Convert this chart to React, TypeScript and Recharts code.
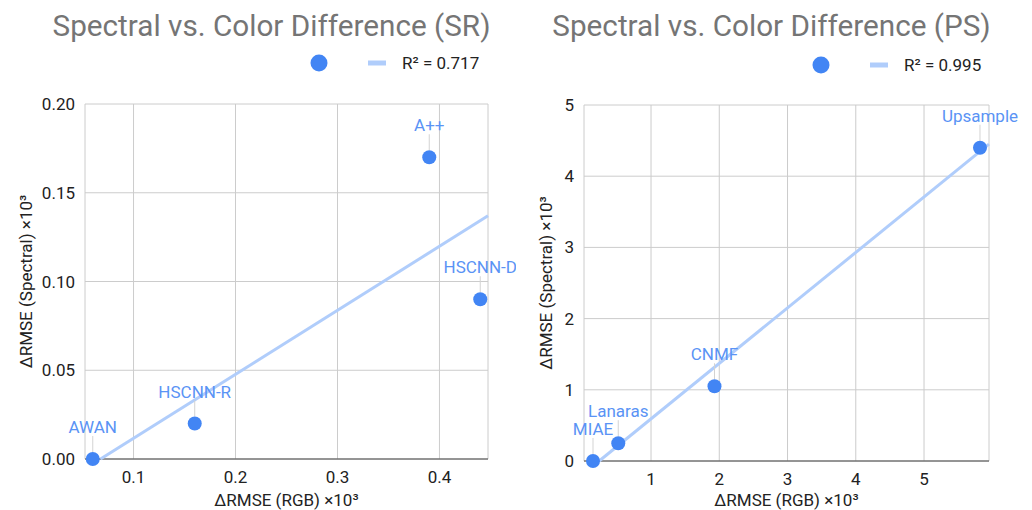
// Two side-by-side scatter panels: spectral vs. colour error, with trendline.
import { CartesianGrid, Scatter, ScatterChart, XAxis, YAxis, ZAxis } from "recharts";

// --- SR panel ---
const SR_NAMES = ["AWAN", "HSCNN-R", "A++", "HSCNN-D"];
const SR_RGB = [0.06, 0.16, 0.39, 0.44];
const SR_SPECTRAL = [0.0, 0.02, 0.17, 0.09];
const SR_TREND_RGB = [0.0676, 0.4476];
const SR_TREND_SPECTRAL = [0.0, 0.137];
const SR_X_TICKS = [0.1, 0.2, 0.3, 0.4];
const SR_Y_TICKS = [0, 0.05, 0.1, 0.15, 0.2];
const SR_X_DOMAIN = [0.0524, 0.4476];
const SR_Y_DOMAIN = [0, 0.2];
const SR_R2 = "0.717";

// --- PS panel ---
const PS_NAMES = ["MIAE", "Lanaras", "CNMF", "Upsample"];
const PS_RGB = [0.15, 0.52, 1.93, 5.82];
const PS_SPECTRAL = [0.0, 0.25, 1.05, 4.4];
const PS_TREND_RGB = [0.24, 5.952];
const PS_TREND_SPECTRAL = [0.0, 4.45];
const PS_X_TICKS = [1, 2, 3, 4, 5];
const PS_Y_TICKS = [0, 1, 2, 3, 4, 5];
const PS_X_DOMAIN = [0.018, 5.952];
const PS_Y_DOMAIN = [0, 5];
const PS_R2 = "0.995";

const X_TITLE = "ΔRMSE (RGB) ×10³";
const Y_TITLE = "ΔRMSE (Spectral) ×10³";

const DOT = "#4285F4";
const LABEL = "#5a93f5";
const TREND = "#b0cdfb";
const LEADER = "#d3d3d3";
const GRID = "#cccccc";
const INK = "#222222";
const TITLE = "#757575";
const FONT = "Roboto, 'Liberation Sans', Arial, sans-serif";

const W = 516;
const H = 510;

const tick = { fontSize: 17, fill: INK, fontFamily: FONT };

function LabeledDot(props: any) {
  const { cx, cy, payload } = props;
  if (cx == null || cy == null) return <g />;
  return (
    <g>
      <line x1={cx} x2={cx} y1={cy - 7} y2={cy - 23} stroke={LEADER} strokeWidth={1} />
      <circle cx={cx} cy={cy} r={7} fill={DOT} />
      <text
        x={cx}
        y={cy - 26}
        textAnchor="middle"
        fontSize={17}
        fontFamily={FONT}
        fill={LABEL}
      >
        {payload.name}
      </text>
    </g>
  );
}

interface PanelProps {
  title: string;
  names: string[];
  rgb: number[];
  spectral: number[];
  trendRgb: number[];
  trendSpectral: number[];
  xTicks: number[];
  yTicks: number[];
  xDomain: number[];
  yDomain: number[];
  r2: string;
  xFmt: (v: number) => string;
  yFmt: (v: number) => string;
  // layout
  plot: { left: number; right: number; top: number; bottom: number };
  titleX: number;
  legendX: number;
  legendY: number;
  yTitleX: number;
}

function Panel(p: PanelProps) {
  const points = p.names.map((name, i) => ({ name, x: p.rgb[i], y: p.spectral[i] }));
  const trend = p.trendRgb.map((x, i) => ({ x, y: p.trendSpectral[i] }));
  const xAxisH = 30;
  const plotCx = (p.plot.left + p.plot.right) / 2;
  const plotCy = (p.plot.top + p.plot.bottom) / 2;

  return (
    <div style={{ position: "relative", width: W, height: H }}>
      <ScatterChart
        width={W}
        height={H}
        margin={{
          top: p.plot.top,
          right: W - p.plot.right,
          bottom: H - p.plot.bottom - xAxisH,
          left: 0,
        }}
      >
        <CartesianGrid stroke={GRID} strokeWidth={1} />
        <XAxis
          type="number"
          dataKey="x"
          domain={p.xDomain}
          ticks={p.xTicks}
          tickFormatter={p.xFmt}
          tick={tick}
          tickLine={false}
          tickSize={0}
          tickMargin={12}
          height={xAxisH}
          axisLine={{ stroke: "#444", strokeWidth: 1 }}
        />
        <YAxis
          type="number"
          dataKey="y"
          domain={p.yDomain}
          ticks={p.yTicks}
          tickFormatter={p.yFmt}
          tick={tick}
          tickLine={false}
          tickSize={0}
          tickMargin={10}
          width={p.plot.left}
          axisLine={false}
        />
        <ZAxis range={[154, 154]} />
        <Scatter
          data={trend}
          line={{ stroke: TREND, strokeWidth: 3 }}
          shape={() => <g />}
          isAnimationActive={false}
        />
        <Scatter data={points} shape={LabeledDot} isAnimationActive={false} />
      </ScatterChart>

      <svg
        width={W}
        height={H}
        style={{ position: "absolute", left: 0, top: 0, pointerEvents: "none" }}
        fontFamily={FONT}
      >
        <text x={p.titleX} y={36} textAnchor="middle" fontSize={29.7} fill={TITLE}>
          {p.title}
        </text>
        <circle cx={p.legendX} cy={p.legendY} r={8.5} fill={DOT} />
        <line
          x1={p.legendX + 49}
          x2={p.legendX + 67}
          y1={p.legendY}
          y2={p.legendY}
          stroke={TREND}
          strokeWidth={5}
        />
        <text x={p.legendX + 83} y={p.legendY + 6} fontSize={17} fill={INK}>
          R² = {p.r2}
        </text>
        <text x={plotCx} y={506} textAnchor="middle" fontSize={17} fill={INK}>
          {X_TITLE}
        </text>
        <text
          transform={`translate(${p.yTitleX}, ${plotCy}) rotate(-90)`}
          textAnchor="middle"
          fontSize={17}
          fill={INK}
        >
          {Y_TITLE}
        </text>
      </svg>
    </div>
  );
}

export default function App() {
  return (
    <div
      style={{
        position: "absolute",
        left: 0,
        top: 0,
        width: 1032,
        height: 510,
        display: "flex",
        background: "#fff",
      }}
    >
      <Panel
        title="Spectral vs. Color Difference (SR)"
        names={SR_NAMES}
        rgb={SR_RGB}
        spectral={SR_SPECTRAL}
        trendRgb={SR_TREND_RGB}
        trendSpectral={SR_TREND_SPECTRAL}
        xTicks={SR_X_TICKS}
        yTicks={SR_Y_TICKS}
        xDomain={SR_X_DOMAIN}
        yDomain={SR_Y_DOMAIN}
        r2={SR_R2}
        xFmt={(v) => v.toFixed(1)}
        yFmt={(v) => v.toFixed(2)}
        plot={{ left: 85, right: 488, top: 104, bottom: 459 }}
        titleX={271.5}
        legendX={319}
        legendY={63}
        yTitleX={32}
      />
      <Panel
        title="Spectral vs. Color Difference (PS)"
        names={PS_NAMES}
        rgb={PS_RGB}
        spectral={PS_SPECTRAL}
        trendRgb={PS_TREND_RGB}
        trendSpectral={PS_TREND_SPECTRAL}
        xTicks={PS_X_TICKS}
        yTicks={PS_Y_TICKS}
        xDomain={PS_X_DOMAIN}
        yDomain={PS_Y_DOMAIN}
        r2={PS_R2}
        xFmt={(v) => String(v)}
        yFmt={(v) => String(v)}
        plot={{ left: 68, right: 473, top: 105, bottom: 461 }}
        titleX={255.5}
        legendX={305}
        legendY={65}
        yTitleX={36}
      />
    </div>
  );
}
